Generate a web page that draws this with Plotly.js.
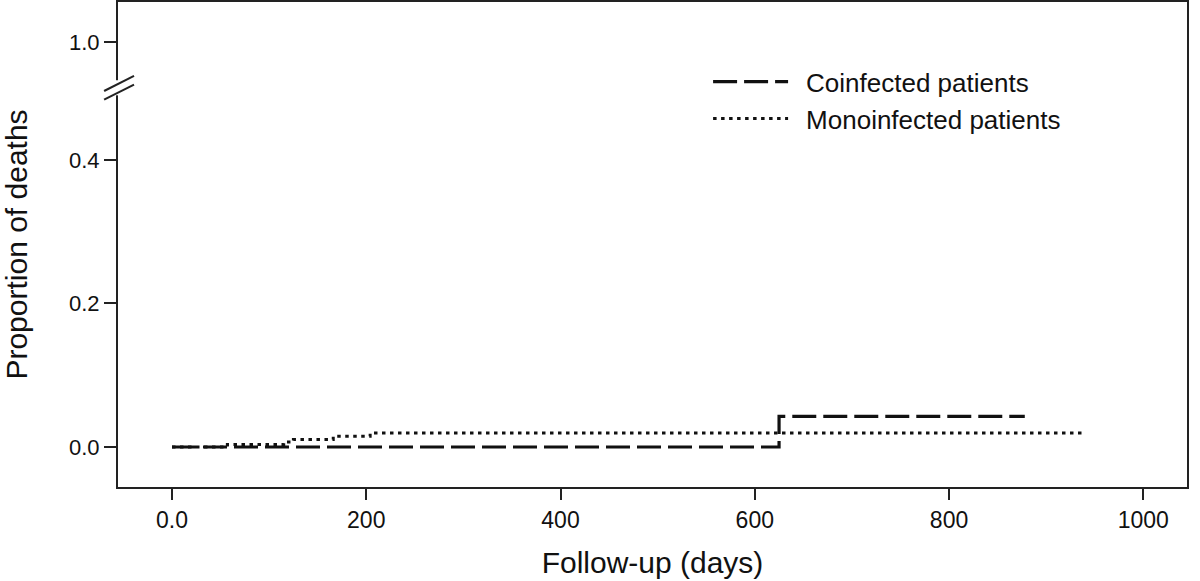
<!DOCTYPE html>
<html>
<head>
<meta charset="utf-8">
<script src="https://cdn.plot.ly/plotly-3.0.1.min.js"></script>
<style>html,body{margin:0;padding:0;background:#fff;}#chart{width:1200px;height:581px;}</style>
</head>
<body>
<div id="chart"></div>
<script>
// Data (days, cumulative proportion of deaths)
const coinfectedDays = [0, 625, 878];
const coinfectedProp = [0, 0.0428, 0.0428];
const monoinfectedDays = [0, 57, 115, 125, 166, 204, 937];
const monoinfectedProp = [0, 0.0035, 0.007, 0.0105, 0.015, 0.0195, 0.0195];

const xTickVals = [0, 200, 400, 600, 800, 1000];
const xTickText = ['0.0', '200', '400', '600', '800', '1000'];
// broken axis: the "1.0" tick is placed above the break
const yTickVals = [0, 0.2, 0.4, 0.5645];
const yTickText = ['0.0', '0.2', '0.4', '1.0'];
const seriesNames = ['Coinfected patients', 'Monoinfected patients'];

const FONT = 'Liberation Sans, Arial, Helvetica, sans-serif';
const GAP = '\u2002'; // spacing between legend line and label

const traces = [
  {
    x: coinfectedDays, y: coinfectedProp, name: GAP + seriesNames[0],
    type: 'scatter', mode: 'lines',
    line: {shape: 'hv', color: '#111', width: 3.2, dash: '24px,7px'}
  },
  {
    x: monoinfectedDays, y: monoinfectedProp, name: GAP + seriesNames[1],
    type: 'scatter', mode: 'lines',
    line: {shape: 'hv', color: '#111', width: 3, dash: '3.5px,4.5px'}
  }
];

const layout = {
  width: 1200, height: 581,
  margin: {l: 118, r: 13, t: 2, b: 94},
  paper_bgcolor: '#fff', plot_bgcolor: '#fff',
  font: {family: FONT, color: '#111'},
  showlegend: true,
  legend: {
    x: 0.552, y: 0.884, xanchor: 'left', yanchor: 'top',
    font: {size: 26, family: FONT, color: '#111'},
    itemwidth: 75, bgcolor: 'rgba(0,0,0,0)', borderwidth: 0,
    tracegroupgap: 0
  },
  xaxis: {
    range: [-55.6, 1045], tickvals: xTickVals, ticktext: xTickText,
    showgrid: false, zeroline: false,
    showline: true, linecolor: '#222', linewidth: 2, mirror: true,
    ticks: 'outside', ticklen: 11, tickwidth: 2, tickcolor: '#222',
    tickfont: {size: 23, family: FONT, color: '#111'},
    title: {text: 'Follow-up (days)', font: {size: 30, family: FONT, color: '#111'}, standoff: 20}
  },
  yaxis: {
    range: [-0.0557, 0.620], tickvals: yTickVals, ticktext: yTickText,
    showgrid: false, zeroline: false,
    showline: true, linecolor: '#222', linewidth: 2, mirror: true,
    ticks: 'outside', ticklen: 12, tickwidth: 2, tickcolor: '#222',
    tickfont: {size: 22, family: FONT, color: '#111'},
    title: {text: 'Proportion of deaths', font: {size: 30, family: FONT, color: '#111'}, standoff: 36}
  },
  shapes: [
    // gap in the axis for the break
    {type: 'line', xref: 'paper', yref: 'y', x0: 0, x1: 0, y0: 0.490, y1: 0.511,
     line: {color: '#fff', width: 5}, layer: 'above'},
    {type: 'line', xref: 'paper', yref: 'y', x0: -0.013, x1: 0.015, y0: 0.484, y1: 0.505,
     line: {color: '#222', width: 2}, layer: 'above'},
    {type: 'line', xref: 'paper', yref: 'y', x0: -0.013, x1: 0.015, y0: 0.496, y1: 0.517,
     line: {color: '#222', width: 2}, layer: 'above'}
  ]
};

Plotly.newPlot('chart', traces, layout, {staticPlot: true, displayModeBar: false});
</script>
</body>
</html>
